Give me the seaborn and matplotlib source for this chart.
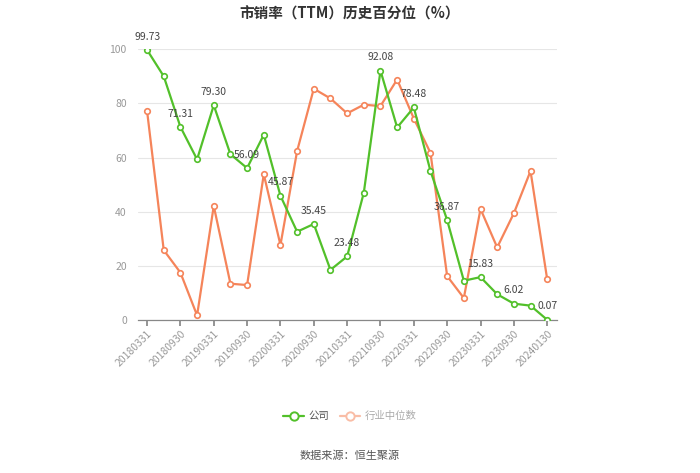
import matplotlib
matplotlib.use("Agg")
import matplotlib.pyplot as plt
import seaborn as sns
import pandas as pd
from matplotlib.lines import Line2D

dates = ["20180331", "20180630", "20180930", "20181231", "20190331", "20190630",
         "20190930", "20191231", "20200331", "20200630", "20200930", "20201231",
         "20210331", "20210630", "20210930", "20211231", "20220331", "20220630",
         "20220930", "20221231", "20230331", "20230630", "20230930", "20231231",
         "20240130"]
company = [99.73, 90.0, 71.31, 59.3, 79.30, 61.2, 56.09, 68.4, 45.87, 32.6,
           35.45, 18.5, 23.48, 47.0, 92.08, 71.1, 78.48, 55.0, 36.87, 14.5,
           15.83, 9.5, 6.02, 5.3, 0.07]
industry = [77.2, 25.8, 17.5, 1.7, 42.1, 13.4, 12.9, 53.8, 27.7, 62.4,
            85.4, 81.8, 76.3, 79.5, 79.0, 88.8, 74.4, 61.7, 16.2, 8.1,
            41.0, 26.8, 39.4, 55.0, 15.0]
label_idx = list(range(0, 25, 2))

sns.set_theme(style="white")
plt.rcParams['font.family'] = ['Noto Sans CJK SC', 'DejaVu Sans']

green = "#52c02a"
orange = "#f5845a"

df = pd.DataFrame({"idx": range(len(dates)), "公司": company, "行业中位数": industry})

fig = plt.figure(figsize=(7, 4.73), dpi=100)
ax = fig.add_axes([0.197, 0.3235, 0.599, 0.5725])

sns.lineplot(data=df, x="idx", y="行业中位数", ax=ax, color=orange, lw=1.6,
             marker="o", markersize=4, markerfacecolor="white",
             markeredgecolor=orange, markeredgewidth=1.2, zorder=3)
sns.lineplot(data=df, x="idx", y="公司", ax=ax, color=green, lw=1.6,
             marker="o", markersize=4, markerfacecolor="white",
             markeredgecolor=green, markeredgewidth=1.2, zorder=4)

for i in label_idx:
    ax.annotate(f"{company[i]:.2f}", (i, company[i]), xytext=(0, 6),
                textcoords="offset points", ha="center", va="bottom",
                fontsize=7.5, color="#444444", zorder=5)

ax.set_xlim(-0.55, 24.6)
ax.set_ylim(0, 100)
ax.set_yticks([0, 20, 40, 60, 80, 100])
ax.set_xticks(label_idx)
ax.set_xticklabels([dates[i] for i in label_idx], rotation=45, ha="right",
                   rotation_mode="anchor", fontsize=7.5, color="#999999")
ax.tick_params(axis="y", labelsize=7.5, labelcolor="#999999", length=0, pad=8)
ax.tick_params(axis="x", length=4, color="#888888", direction="out", bottom=True, pad=2)
ax.grid(axis="y", color="#e6e6e6", lw=0.8)
ax.set_axisbelow(True)
for s in ["top", "right", "left"]:
    ax.spines[s].set_visible(False)
ax.spines["bottom"].set_color("#888888")
ax.spines["bottom"].set_linewidth(0.9)
ax.set_xlabel("")
ax.set_ylabel("")

fig.text(0.5, 0.972, "市销率（TTM）历史百分位（%）", ha="center", va="center",
         fontsize=10.5, fontweight="bold", color="#333333")

handles = [
    Line2D([], [], color=green, lw=1.6, marker="o", markersize=6,
           markerfacecolor="white", markeredgecolor=green, markeredgewidth=1.4),
    Line2D([], [], color="#f9bda6", lw=1.6, marker="o", markersize=6,
           markerfacecolor="white", markeredgecolor="#f9bda6", markeredgewidth=1.4),
]
leg = fig.legend(handles, ["公司", "行业中位数"], loc="center", bbox_to_anchor=(0.5, 0.12),
                 ncol=2, frameon=False, fontsize=7.5, handlelength=2.0,
                 columnspacing=1.0, handletextpad=0.4)
for t, c in zip(leg.get_texts(), ["#555555", "#aaaaaa"]):
    t.set_color(c)

fig.text(0.5, 0.036, "数据来源：恒生聚源", ha="center", va="center",
         fontsize=8, color="#555555")

fig.savefig("out.png", dpi=100)
